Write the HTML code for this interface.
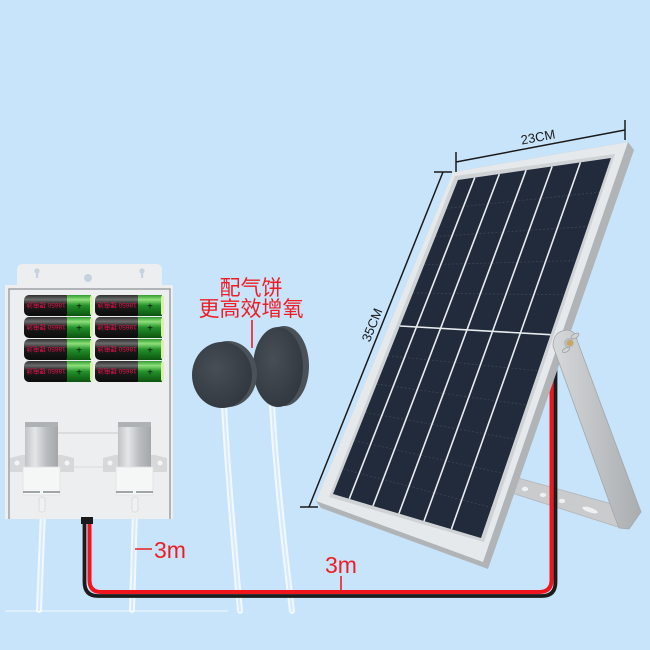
<!DOCTYPE html>
<html><head><meta charset="utf-8"><style>
html,body{margin:0;padding:0;background:#c8e4fb;}
svg{display:block;}
</style></head><body>
<svg width="650" height="650" viewBox="0 0 650 650" xmlns="http://www.w3.org/2000/svg" font-family="'Liberation Sans','Noto Sans CJK SC',sans-serif">
<defs>
<linearGradient id="bk" x1="0" y1="0" x2="0" y2="1"><stop offset="0" stop-color="#2e2e2e"/><stop offset="0.22" stop-color="#6c6c6c"/><stop offset="0.45" stop-color="#1c1c1c"/><stop offset="1" stop-color="#0c0c0c"/></linearGradient>
<linearGradient id="gr" x1="0" y1="0" x2="0" y2="1"><stop offset="0" stop-color="#2f9a2f"/><stop offset="0.22" stop-color="#8ee07a"/><stop offset="0.5" stop-color="#23922a"/><stop offset="1" stop-color="#0c5410"/></linearGradient>
<linearGradient id="cyl" x1="0" y1="0" x2="1" y2="0"><stop offset="0" stop-color="#c0c3c5"/><stop offset="0.3" stop-color="#e4e6e7"/><stop offset="0.65" stop-color="#b9bdc0"/><stop offset="1" stop-color="#a3a7aa"/></linearGradient>
<linearGradient id="leg" x1="0" y1="0" x2="1" y2="0"><stop offset="0" stop-color="#d6d8da"/><stop offset="1" stop-color="#a9adb0"/></linearGradient>
<radialGradient id="st" cx="0.4" cy="0.4" r="0.7"><stop offset="0" stop-color="#474e56"/><stop offset="1" stop-color="#30363d"/></radialGradient>
</defs>
<rect width="650" height="650" fill="#c8e4fb"/>

<line x1="5" y1="611" x2="228" y2="611" stroke="#ffffff" stroke-opacity="0.55" stroke-width="1.5"/>

<g fill="none" stroke-linecap="round">
<path d="M43,510 L39,610" stroke="#ffffff" stroke-opacity="0.75" stroke-width="6"/>
<path d="M43,510 L39,610" stroke="#cfe6fa" stroke-opacity="0.8" stroke-width="2"/>
<path d="M135,510 L132,610" stroke="#ffffff" stroke-opacity="0.75" stroke-width="6"/>
<path d="M135,510 L132,610" stroke="#cfe6fa" stroke-opacity="0.8" stroke-width="2"/>
<path d="M224,405 Q228,480 240,611" stroke="#ffffff" stroke-opacity="0.75" stroke-width="6"/>
<path d="M224,405 Q228,480 240,611" stroke="#cfe6fa" stroke-opacity="0.8" stroke-width="2"/>
<path d="M272,403 Q276,480 292,611" stroke="#ffffff" stroke-opacity="0.75" stroke-width="6"/>
<path d="M272,403 Q276,480 292,611" stroke="#cfe6fa" stroke-opacity="0.8" stroke-width="2"/>
</g>

<!-- box tab -->
<path d="M17,287 L17,270 Q17,264 23,264 L156,264 Q162,264 162,270 L162,287 Z" fill="#eceeef"/>
<circle cx="37" cy="271" r="2.6" fill="#c6d3de"/><rect x="36" y="271" width="2.2" height="7" fill="#c6d3de"/>
<circle cx="88" cy="278" r="4" fill="#c6d3de"/>
<circle cx="142" cy="271" r="2.6" fill="#c6d3de"/><rect x="141" y="271" width="2.2" height="7" fill="#c6d3de"/>

<!-- box body -->
<rect x="5" y="285" width="168" height="234" fill="#eceeef"/>
<path d="M9,519 V289 H170 V519" fill="none" stroke="#9ea2a5" stroke-width="1.5"/>

<!-- batteries -->
<g transform="translate(24,295)"><rect x="0" y="0" width="47" height="21" rx="5" fill="url(#bk)"/><rect x="43" y="0" width="24" height="21" fill="url(#gr)"/><rect x="66" y="1" width="3" height="19" rx="1.5" fill="#d8f0a8"/><text x="55" y="14.5" font-size="10" fill="#111" text-anchor="middle">+</text><text transform="rotate(180 22 10.5)" x="22" y="13" font-size="6.5" fill="#e8124a" text-anchor="middle">18650 锂电池</text></g>
<g transform="translate(95,295)"><rect x="0" y="0" width="47" height="21" rx="5" fill="url(#bk)"/><rect x="43" y="0" width="24" height="21" fill="url(#gr)"/><rect x="66" y="1" width="3" height="19" rx="1.5" fill="#d8f0a8"/><text x="55" y="14.5" font-size="10" fill="#111" text-anchor="middle">+</text><text transform="rotate(180 22 10.5)" x="22" y="13" font-size="6.5" fill="#e8124a" text-anchor="middle">18650 锂电池</text></g>
<g transform="translate(24,317)"><rect x="0" y="0" width="47" height="21" rx="5" fill="url(#bk)"/><rect x="43" y="0" width="24" height="21" fill="url(#gr)"/><rect x="66" y="1" width="3" height="19" rx="1.5" fill="#d8f0a8"/><text x="55" y="14.5" font-size="10" fill="#111" text-anchor="middle">+</text><text transform="rotate(180 22 10.5)" x="22" y="13" font-size="6.5" fill="#e8124a" text-anchor="middle">18650 锂电池</text></g>
<g transform="translate(95,317)"><rect x="0" y="0" width="47" height="21" rx="5" fill="url(#bk)"/><rect x="43" y="0" width="24" height="21" fill="url(#gr)"/><rect x="66" y="1" width="3" height="19" rx="1.5" fill="#d8f0a8"/><text x="55" y="14.5" font-size="10" fill="#111" text-anchor="middle">+</text><text transform="rotate(180 22 10.5)" x="22" y="13" font-size="6.5" fill="#e8124a" text-anchor="middle">18650 锂电池</text></g>
<g transform="translate(24,339)"><rect x="0" y="0" width="47" height="21" rx="5" fill="url(#bk)"/><rect x="43" y="0" width="24" height="21" fill="url(#gr)"/><rect x="66" y="1" width="3" height="19" rx="1.5" fill="#d8f0a8"/><text x="55" y="14.5" font-size="10" fill="#111" text-anchor="middle">+</text><text transform="rotate(180 22 10.5)" x="22" y="13" font-size="6.5" fill="#e8124a" text-anchor="middle">18650 锂电池</text></g>
<g transform="translate(95,339)"><rect x="0" y="0" width="47" height="21" rx="5" fill="url(#bk)"/><rect x="43" y="0" width="24" height="21" fill="url(#gr)"/><rect x="66" y="1" width="3" height="19" rx="1.5" fill="#d8f0a8"/><text x="55" y="14.5" font-size="10" fill="#111" text-anchor="middle">+</text><text transform="rotate(180 22 10.5)" x="22" y="13" font-size="6.5" fill="#e8124a" text-anchor="middle">18650 锂电池</text></g>
<g transform="translate(24,361)"><rect x="0" y="0" width="47" height="21" rx="5" fill="url(#bk)"/><rect x="43" y="0" width="24" height="21" fill="url(#gr)"/><rect x="66" y="1" width="3" height="19" rx="1.5" fill="#d8f0a8"/><text x="55" y="14.5" font-size="10" fill="#111" text-anchor="middle">+</text><text transform="rotate(180 22 10.5)" x="22" y="13" font-size="6.5" fill="#e8124a" text-anchor="middle">18650 锂电池</text></g>
<g transform="translate(95,361)"><rect x="0" y="0" width="47" height="21" rx="5" fill="url(#bk)"/><rect x="43" y="0" width="24" height="21" fill="url(#gr)"/><rect x="66" y="1" width="3" height="19" rx="1.5" fill="#d8f0a8"/><text x="55" y="14.5" font-size="10" fill="#111" text-anchor="middle">+</text><text transform="rotate(180 22 10.5)" x="22" y="13" font-size="6.5" fill="#e8124a" text-anchor="middle">18650 锂电池</text></g>

<!-- pumps -->
<line x1="37" y1="433" x2="120" y2="433" stroke="#c9cbcd" stroke-width="1"/>
<line x1="58" y1="467" x2="118" y2="467" stroke="#d9dbdc" stroke-width="1"/>
<g transform="translate(42,0)">
<path d="M-32,458 L-20,455 L20,455 L32,458 L32,472 L-32,472 Z" fill="#d6d8da"/>
<circle cx="-25" cy="463" r="2.5" fill="#f3f4f5"/><circle cx="25" cy="463" r="2.5" fill="#f3f4f5"/>
<rect x="-17" y="422" width="33" height="46" fill="url(#cyl)"/>
<rect x="-17" y="422" width="33" height="5" fill="#aeb2b5"/>
<rect x="-19" y="467" width="37" height="28" fill="#f5f6f6" stroke="#e0e2e3" stroke-width="0.8"/>
<rect x="-19" y="491" width="17" height="2" fill="#a0a5a8"/><rect x="1" y="491" width="17" height="2" fill="#a0a5a8"/>
<rect x="-3" y="497" width="6" height="15" rx="2.5" fill="#f0f1f2" stroke="#d6d8da" stroke-width="0.8"/>
</g>
<g transform="translate(135,0)">
<path d="M-32,458 L-20,455 L20,455 L32,458 L32,472 L-32,472 Z" fill="#d6d8da"/>
<circle cx="-25" cy="463" r="2.5" fill="#f3f4f5"/><circle cx="25" cy="463" r="2.5" fill="#f3f4f5"/>
<rect x="-17" y="422" width="33" height="46" fill="url(#cyl)"/>
<rect x="-17" y="422" width="33" height="5" fill="#aeb2b5"/>
<rect x="-19" y="467" width="37" height="28" fill="#f5f6f6" stroke="#e0e2e3" stroke-width="0.8"/>
<rect x="-19" y="491" width="17" height="2" fill="#a0a5a8"/><rect x="1" y="491" width="17" height="2" fill="#a0a5a8"/>
<rect x="-3" y="497" width="6" height="15" rx="2.5" fill="#f0f1f2" stroke="#d6d8da" stroke-width="0.8"/>
</g>

<!-- strap -->
<path d="M518,478 L612,504 L621,528 L515,494 Q509,486 518,478 Z" fill="#c9cbcd" stroke="#b2b5b7" stroke-width="0.8"/>
<ellipse cx="525" cy="489" rx="3.2" ry="2.2" fill="#eef0f1"/>
<ellipse cx="543" cy="495" rx="3.2" ry="2.2" fill="#eef0f1"/>
<ellipse cx="562" cy="501" rx="3.2" ry="2.2" fill="#eef0f1"/>
<ellipse cx="590" cy="510" rx="8" ry="2.4" transform="rotate(18 590 510)" fill="#eef0f1"/>

<!-- cable -->
<path d="M84.5,522 V582 Q84.5,596 98,596 H542 Q555.5,596 555.5,582 V360" fill="none" stroke="#1c1c1c" stroke-width="3.8"/>
<path d="M89.5,522 V580 Q89.5,592 101,592 H539 Q551.5,592 551.5,580 V360" fill="none" stroke="#f0141c" stroke-width="4"/>
<rect x="81" y="517" width="12" height="7" fill="#1a1a1a"/>

<!-- solar panel -->
<polygon points="453,172 628,142 634,150 488,569 321,508 316,501" fill="#b0b4b7"/>
<polygon points="453,172 628,142 483,562 316,501" fill="#e6e9eb"/>
<polygon points="455,176 615,154 484,542 329,497" fill="#cfd3d6"/>
<polygon points="458,180 611,158 481,538 333,494" fill="#222b3b"/>
<g stroke="#ffffff" stroke-opacity="0.13" stroke-width="0.8" stroke-dasharray="2 2">
<line x1="446.8" y1="208.3" x2="599.3" y2="192.2"/>
<line x1="435.5" y1="236.5" x2="587.6" y2="226.4"/>
<line x1="424.3" y1="264.8" x2="575.9" y2="260.6"/>
<line x1="413" y1="293" x2="564.2" y2="294.8"/>
<line x1="388" y1="355.8" x2="538.2" y2="370.8"/>
<line x1="376.8" y1="384.1" x2="526.5" y2="405"/>
<line x1="365.5" y1="412.4" x2="514.8" y2="439.2"/>
<line x1="354.3" y1="440.6" x2="503.1" y2="473.4"/>
<line x1="343" y1="468.9" x2="491.4" y2="507.6"/>
</g>
<g stroke="#e9edf1" stroke-width="1.6">
<line x1="474.8" y1="177.6" x2="349.3" y2="498.8"/>
<line x1="499.3" y1="174.1" x2="373" y2="505.9"/>
<line x1="526.1" y1="170.2" x2="398.9" y2="513.6"/>
<line x1="552.1" y1="166.5" x2="424" y2="521.1"/>
<line x1="580.4" y1="162.4" x2="451.4" y2="529.2"/>
<line x1="400" y1="326" x2="550.5" y2="334.7"/>
</g>

<!-- leg + hinge -->
<path d="M553,346 Q553,331 567,330 Q576,331 577,340 L641,512 L629,529 L619,528 L614,515 Z" fill="url(#leg)" stroke="#a3a7aa" stroke-width="0.8"/>
<circle cx="569" cy="343" r="5" fill="#b8bbbe"/>
<ellipse cx="575" cy="336" rx="4.5" ry="2.2" transform="rotate(-30 575 336)" fill="#cfd1d3" stroke="#8e9296" stroke-width="0.6"/>
<ellipse cx="566" cy="350" rx="4" ry="2" transform="rotate(-30 566 350)" fill="#cfd1d3" stroke="#8e9296" stroke-width="0.6"/>
<circle cx="570" cy="343" r="3" fill="#c9a65a"/>

<!-- dimension lines -->
<g stroke="#1a1a1a" stroke-width="1.5" fill="none">
<line x1="456" y1="162" x2="625" y2="130"/>
<line x1="456" y1="152" x2="456" y2="172"/>
<line x1="625" y1="120" x2="625" y2="140"/>
<line x1="443" y1="172" x2="309" y2="507"/>
<line x1="434" y1="172" x2="452" y2="172"/>
<line x1="300" y1="507" x2="318" y2="507"/>
</g>
<text transform="translate(538,137) rotate(-10.7)" y="4.5" font-size="13" fill="#1a1a1a" text-anchor="middle">23CM</text>
<text transform="translate(372,325) rotate(-68.2)" y="4.5" font-size="13" fill="#1a1a1a" text-anchor="middle">35CM</text>

<!-- air stones -->
<ellipse cx="284" cy="366" rx="25" ry="40" fill="#4a5158"/>
<ellipse cx="278" cy="367" rx="25" ry="40" fill="url(#st)"/>
<ellipse cx="228" cy="374" rx="29" ry="33" fill="#4a5158"/>
<ellipse cx="222" cy="375" rx="30" ry="33" fill="url(#st)"/>

<!-- labels -->
<g fill="#ee1d23">
<text x="251" y="295" font-size="21" text-anchor="middle">配气饼</text>
<text x="251" y="316" font-size="21" text-anchor="middle">更高效增氧</text>
<text x="154" y="558" font-size="23">3m</text>
<text x="325" y="573" font-size="23">3m</text>
</g>
<g stroke="#ee1d23" stroke-width="1.6">
<line x1="252" y1="320" x2="252" y2="348"/>
<line x1="135" y1="549" x2="152" y2="549"/>
<line x1="341" y1="576" x2="341" y2="591"/>
</g>
</svg>
</body></html>
